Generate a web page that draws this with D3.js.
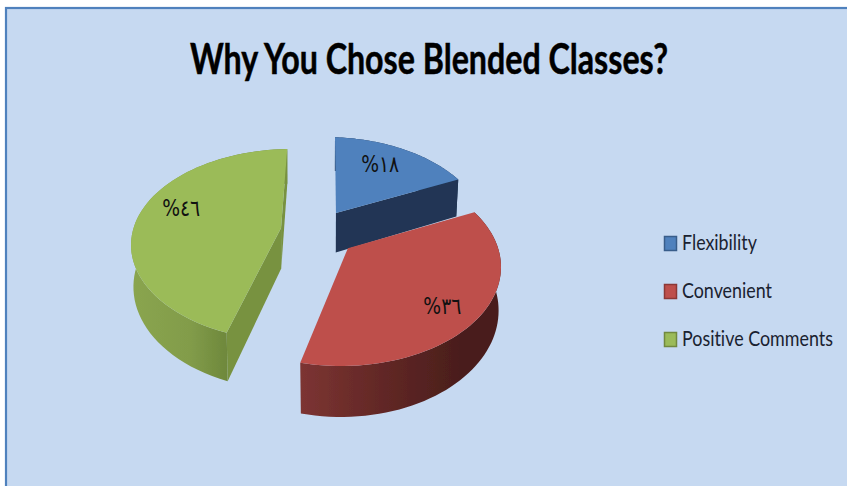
<!DOCTYPE html>
<html>
<head>
<meta charset="utf-8">
<script src="https://cdn.jsdelivr.net/npm/d3@7"></script>
<style>html,body{margin:0;padding:0;background:#fff;overflow:hidden}svg{display:block}</style>
</head>
<body>
<svg id="c" width="847" height="486"></svg>
<script>
const title = "Why You Chose Blended Classes?";
const categories = ["Flexibility", "Convenient", "Positive Comments"];
const values = [18, 36, 46];
const valueLabels = ["%١٨", "%٣٦", "%٤٦"];

const W = 847, H = 486;
const colors = d3.scaleOrdinal(categories, ["#4f81bd", "#be4f4b", "#9bbb59"]);
const edgeColors = d3.scaleOrdinal(categories, ["#385d8a", "#8c3836", "#71893f"]);
const sideColors = d3.scaleOrdinal(categories, ["#213654", "#4a1e1c", "#78923f"]);

// Projection of each exploded slice: ellipse centre and radii, apex offset, view rotation,
// which radial walls (0 = start, 1 = end) face the viewer, and where the data label sits
const sliceViews = [
  {cx: 325, cy: 234, rx: 161, ry: 97, ax: .068, ay: .216, rot: 0, walls: [1], labelRho: .62, ldx: -1, ldy: -5},
  {cx: 341, cy: 267, rx: 160, ry: 99, ax: .043, ay: .19, rot: 0, walls: [], labelRho: .62, ldx: 15, ldy: 19},
  {cx: 292, cy: 245, rx: 161, ry: 96, ax: -.068, ay: .177, rot: .04, walls: [0, 1], labelRho: .70, ldx: 2, ldy: -9}
];

const svg = d3.select("#c");
const defs = svg.append("defs");
svg.append("rect").attr("x", 6).attr("y", 8).attr("width", W).attr("height", H)
  .attr("fill", "#c6d9f1").attr("stroke", "#4f81bd").attr("stroke-width", 2.2);

const blur = defs.append("filter").attr("id", "soft")
  .attr("x", "-5%").attr("y", "-5%").attr("width", "110%").attr("height", "110%");
blur.append("feGaussianBlur").attr("stdDeviation", .45);

function addGradient(id, stops, x1, x2) {
  const g = defs.append("linearGradient").attr("id", id).attr("gradientUnits", "userSpaceOnUse")
    .attr("x1", x1).attr("x2", x2).attr("y1", 0).attr("y2", 0);
  stops.forEach(s => g.append("stop").attr("offset", s[0]).attr("stop-color", s[1]));
}
addGradient("wall1", [[0, "#7c3432"], [.5, "#5c2523"], [.8, "#4a1e1c"], [1, "#4a1e1c"]], 301, 500);
addGradient("wall2", [[0, "#8aa54f"], [.6, "#829c4a"], [1, "#6d873b"]], 131, 229);
const wallFill = ["#213654", "url(#wall1)", "url(#wall2)"];

const arcs = d3.pie().sort(null).value(d => d)(values);

function project(v, theta, rho) {
  const t = theta + v.rot;
  const x = rho * Math.sin(t), y = rho * Math.cos(t);
  const d = Math.hypot(v.ax, v.ay), hx = v.ax / d, hy = v.ay / d;
  const par = x * hx + y * hy, perp = -x * hy + y * hx;
  const den = 1 + d * par;
  const par2 = (par + d) / den, perp2 = perp * Math.sqrt(1 - d * d) / den;
  const u = par2 * hx - perp2 * hy, w = par2 * hy + perp2 * hx;
  return [v.cx + u * v.rx, v.cy - w * v.ry];
}
const depthAt = y => 37 + (y - 180) * .075;
const drop = (v, p) => {
  const k = .985;
  return [v.cx + (p[0] - v.cx) * k, p[1] + depthAt(p[1])];
};
const line = d3.line();
const topEdge = (v, a) => d3.range(0, 61).map(i => project(v, a.startAngle + (a.endAngle - a.startAngle) * i / 60, 1));

const chart = svg.append("g").attr("filter", "url(#soft)");
arcs.forEach((a, i) => {
  const v = sliceViews[i];
  const g = chart.append("g");
  const rim = topEdge(v, a);
  const apex = project(v, 0, 0);
  const ends = [rim[0], rim[rim.length - 1]];
  // outer wall
  g.append("path").attr("d", line(rim.concat(rim.map(p => drop(v, p)).reverse())) + "Z")
    .attr("fill", wallFill[i]);
  // radial walls
  v.walls.forEach(w => {
    const q = ends[w];
    g.append("path").attr("d", line([apex, q, drop(v, q), drop(v, apex)]) + "Z")
      .attr("fill", sideColors(categories[i]));
  });
  // top face
  g.append("path").attr("d", line([apex].concat(rim)) + "Z")
    .attr("fill", colors(categories[i]));
});

arcs.forEach((a, i) => {
  const v = sliceViews[i];
  const p = project(v, (a.startAngle + a.endAngle) / 2, v.labelRho);
  svg.append("text").attr("x", p[0] + v.ldx - 19).attr("y", p[1] + v.ldy)
    .attr("dominant-baseline", "middle")
    .attr("font-family", "'DejaVu Sans'").attr("font-size", 23).attr("fill", "#111")
    .attr("textLength", 38).attr("lengthAdjust", "spacingAndGlyphs")
    .text(valueLabels[i]);
});

svg.append("text").attr("x", 190).attr("y", 74)
  .attr("font-family", "Lato, 'Open Sans', sans-serif").attr("font-weight", 700)
  .attr("font-size", 42).attr("fill", "#000").attr("stroke", "#000").attr("stroke-width", .5)
  .style("font-variant-ligatures", "none")
  .attr("textLength", 478).attr("lengthAdjust", "spacingAndGlyphs").text(title);

const legendY = d3.scalePoint(categories, [243, 339]);
const legendWidths = [75, 90, 151];
const legend = svg.append("g").selectAll("g").data(categories).join("g")
  .attr("transform", d => `translate(664,${legendY(d)})`);
legend.append("rect").attr("x", .5).attr("y", -6.5).attr("width", 12).attr("height", 14)
  .attr("fill", d => colors(d)).attr("stroke", d => edgeColors(d)).attr("stroke-width", 1.5);
legend.append("text")
  .attr("font-family", "Lato, sans-serif").attr("font-size", 21).attr("fill", "#1a2230")
  .style("font-variant-ligatures", "none")
  .text(d => d)
  .attr("transform", function (d, i) {
    return `translate(18,7) scale(${legendWidths[i] / this.getComputedTextLength()},1)`;
  });
</script>
</body>
</html>
